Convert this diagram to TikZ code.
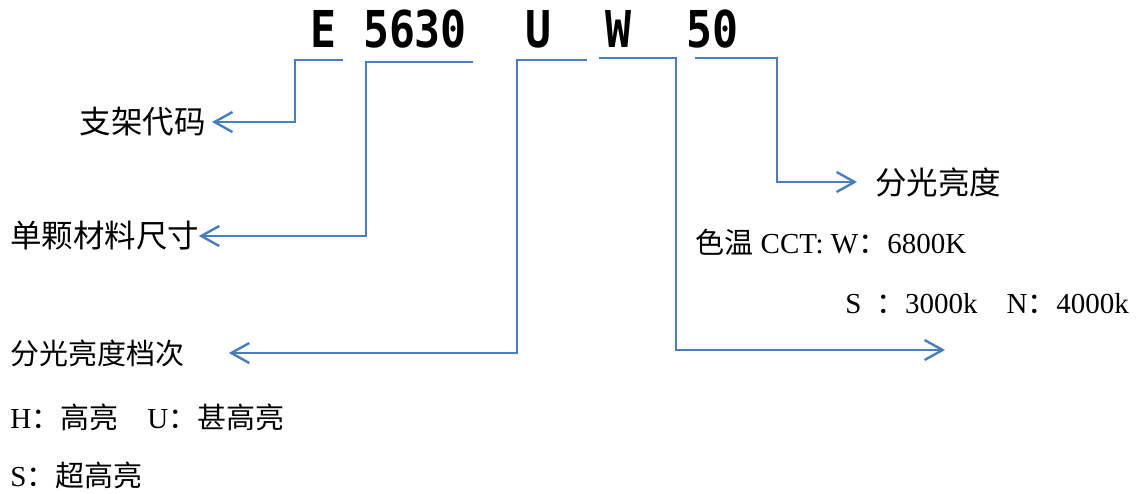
\documentclass[tikz,border=0pt]{standalone}
\usepackage{fontspec}
\usepackage{tikz}
\usepackage{graphicx}
\setmainfont{Liberation Serif}
\newfontfamily\cjk{Noto Sans CJK SC}
\newfontfamily\titlefont{DejaVu Sans Mono}
\usetikzlibrary{arrows.meta}
\definecolor{linkblue}{RGB}{74,126,187}
\newcommand{\codepart}[1]{\scalebox{0.85}[1]{#1}}

\begin{document}
\begin{tikzpicture}[x=0.5pt, y=-0.5pt,
    part/.style={anchor=base, inner sep=0pt, font=\titlefont\fontsize{25.4}{30}\selectfont\bfseries},
    desc/.style={inner sep=0pt, inner xsep=3pt, font=\fontsize{15.75}{18}\selectfont},
    small/.style={desc, font=\fontsize{14.5}{17}\selectfont},
    link/.style={draw=linkblue, line width=1.2pt, -{Straight Barb[length=9pt, width=10pt]}}
]
\useasboundingbox (0,0) rectangle (1145,493);

\node[part] (t1) at (323,47) {\codepart{E}};
\node[part] (t2) at (415,47) {\codepart{5630}};
\node[part] (t3) at (538,47) {\codepart{U}};
\node[part] (t4) at (618,47) {\codepart{W}};
\node[part] (t5) at (712,47) {\codepart{50}};

\node[desc, anchor=east] (l1) at (212,122) {\cjk 支架代码};
\node[desc, anchor=west] (l2) at (4,236) {\cjk 单颗材料尺寸};
\node[small, anchor=west] (l3) at (4,353) {\cjk 分光亮度档次};
\node[small, anchor=base west] (l4) at (4,428) {H{\cjk ：高亮　}U{\cjk ：甚高亮}};
\node[small, anchor=base west] (l5) at (4,486) {S{\cjk ：超高亮}};
\node[desc, anchor=west] (l6) at (869,182) {\cjk 分光亮度};
\node[small, anchor=base west] (l7) at (689,253) {{\cjk 色温} CCT: W{\cjk ：}6800K};
\node[small, anchor=base west] (l8) at (839,313) {S\ \ {\cjk ：}3000k{\cjk 　}N{\cjk ：}4000k};

% bracket ends under the code
\coordinate (e1) at (343,60);  \coordinate (e2) at (295,60);
\coordinate (s1) at (473,62);  \coordinate (s2) at (366,62);
\coordinate (u1) at (587,60);  \coordinate (u2) at (517,60);
\coordinate (w1) at (599,58);  \coordinate (w2) at (676,58);
\coordinate (w3) at (945,350);
\coordinate (f1) at (695,58);  \coordinate (f2) at (777,58);

\draw[link] (e1) -- (e2) |- (l1.east);
\draw[link, shorten >=-3.5pt] (s1) -- (s2) |- (l2.east);
\draw[link, shorten >=19pt] (u1) -- (u2) |- (l3.east);
\draw[link] (w1) -- (w2) |- (w3);
\draw[link, shorten >=6pt] (f1) -- (f2) |- (l6.west);

\end{tikzpicture}
\end{document}
